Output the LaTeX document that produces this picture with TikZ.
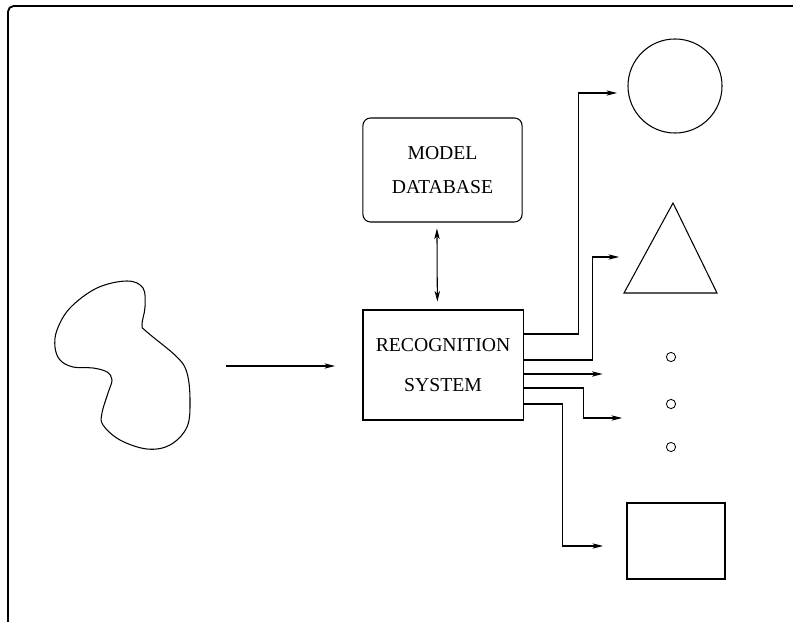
\documentclass[tikz,border=0pt]{standalone}
\usepackage{fontspec}
\setmainfont{Liberation Serif}
\usetikzlibrary{arrows.meta, positioning}

\tikzset{
  sysbox/.style={draw, line width=0.75pt, minimum width=4cm, minimum height=2.75cm,
    align=center, font=\fontsize{14}{28}\selectfont},
  dbbox/.style={sysbox, rounded corners=5.5pt, minimum width=3.98cm, minimum height=2.6cm,
    font=\fontsize{14}{24}\selectfont},
  arr/.style={-{Stealth[length=7.5pt, width=3.8pt, inset=2pt]}, line width=0.75pt},
  dblarr/.style={{Stealth[length=7.5pt, width=3.8pt, inset=2pt]}-{Stealth[length=7.5pt, width=3.8pt, inset=2pt]}, line width=0.75pt},
  dot/.style={draw, circle, line width=0.6pt, inner sep=0pt, minimum size=0.23cm}
}

\begin{document}
\begin{tikzpicture}[x=0.025cm, y=-0.025cm]
    \useasboundingbox (0,0) rectangle (793,622);
    % frame
    \draw[line width=1.3pt, rounded corners=4pt] (8,640) -- (8,6) -- (810,6);

    % object to recognise
    \draw[line width=0.75pt] plot[smooth cycle, tension=0.6] coordinates {
      (127,281) (143,288) (145,307) (142,325) (147,332) (177,357) (187,373)
      (190,400) (187,427) (170,445) (147,449) (120,440) (103,425) (102,413)
      (108,393) (112,380) (107,372) (93,368) (73,367) (60,360) (55,347)
      (57,330) (70,308) (97,288)};

    \node[dbbox] (db) at (442.5,170) {MODEL\\DATABASE};
    \node[sysbox] (recog) at (443,365) {RECOGNITION\\SYSTEM};

    \coordinate (in) at (226,366);
    \coordinate (inend) at (335,366);
    \draw[arr] (in) -- (inend);
    \draw[dblarr, shorten <=6pt*0.7, shorten >=8pt*0.7] ([xshift=-0.14cm]db.south) -- ([xshift=-0.14cm]recog.north);

    % candidate shapes
    \node[draw, circle, line width=0.75pt, inner sep=0pt, minimum size=2.35cm] (circ) at (675,86) {};
    \coordinate (tl) at (624,293);
    \coordinate (tt) at (673,203);
    \coordinate (tr) at (717,293);
    \draw[line width=0.75pt] (tl) -- (tt) -- (tr) -- cycle;
    \foreach \y [count=\i] in {357,404,447} {
      \node[dot] (dot\i) at (671,\y) {};
    }
    \node[draw, line width=0.75pt, minimum width=2.45cm, minimum height=1.9cm] (rect) at (676,541) {};

    % outputs
    \coordinate (c1) at (617,93);
    \coordinate (c2) at (619,257);
    \coordinate (c4) at (622,418);
    \coordinate (c5) at (603,546);
    \draw[arr] ([yshift=0.775cm]recog.east) -- ++(55,0) |- (c1);
    \draw[arr] ([yshift=0.125cm]recog.east) -- ++(69,0) |- (c2);
    \draw[arr] ([yshift=-0.225cm]recog.east) -- ++(79,0);
    \draw[arr] ([yshift=-0.575cm]recog.east) -- ++(60,0) |- (c4);
    \draw[arr] ([yshift=-0.975cm]recog.east) -- ++(39,0) |- (c5);
\end{tikzpicture}
\end{document}
